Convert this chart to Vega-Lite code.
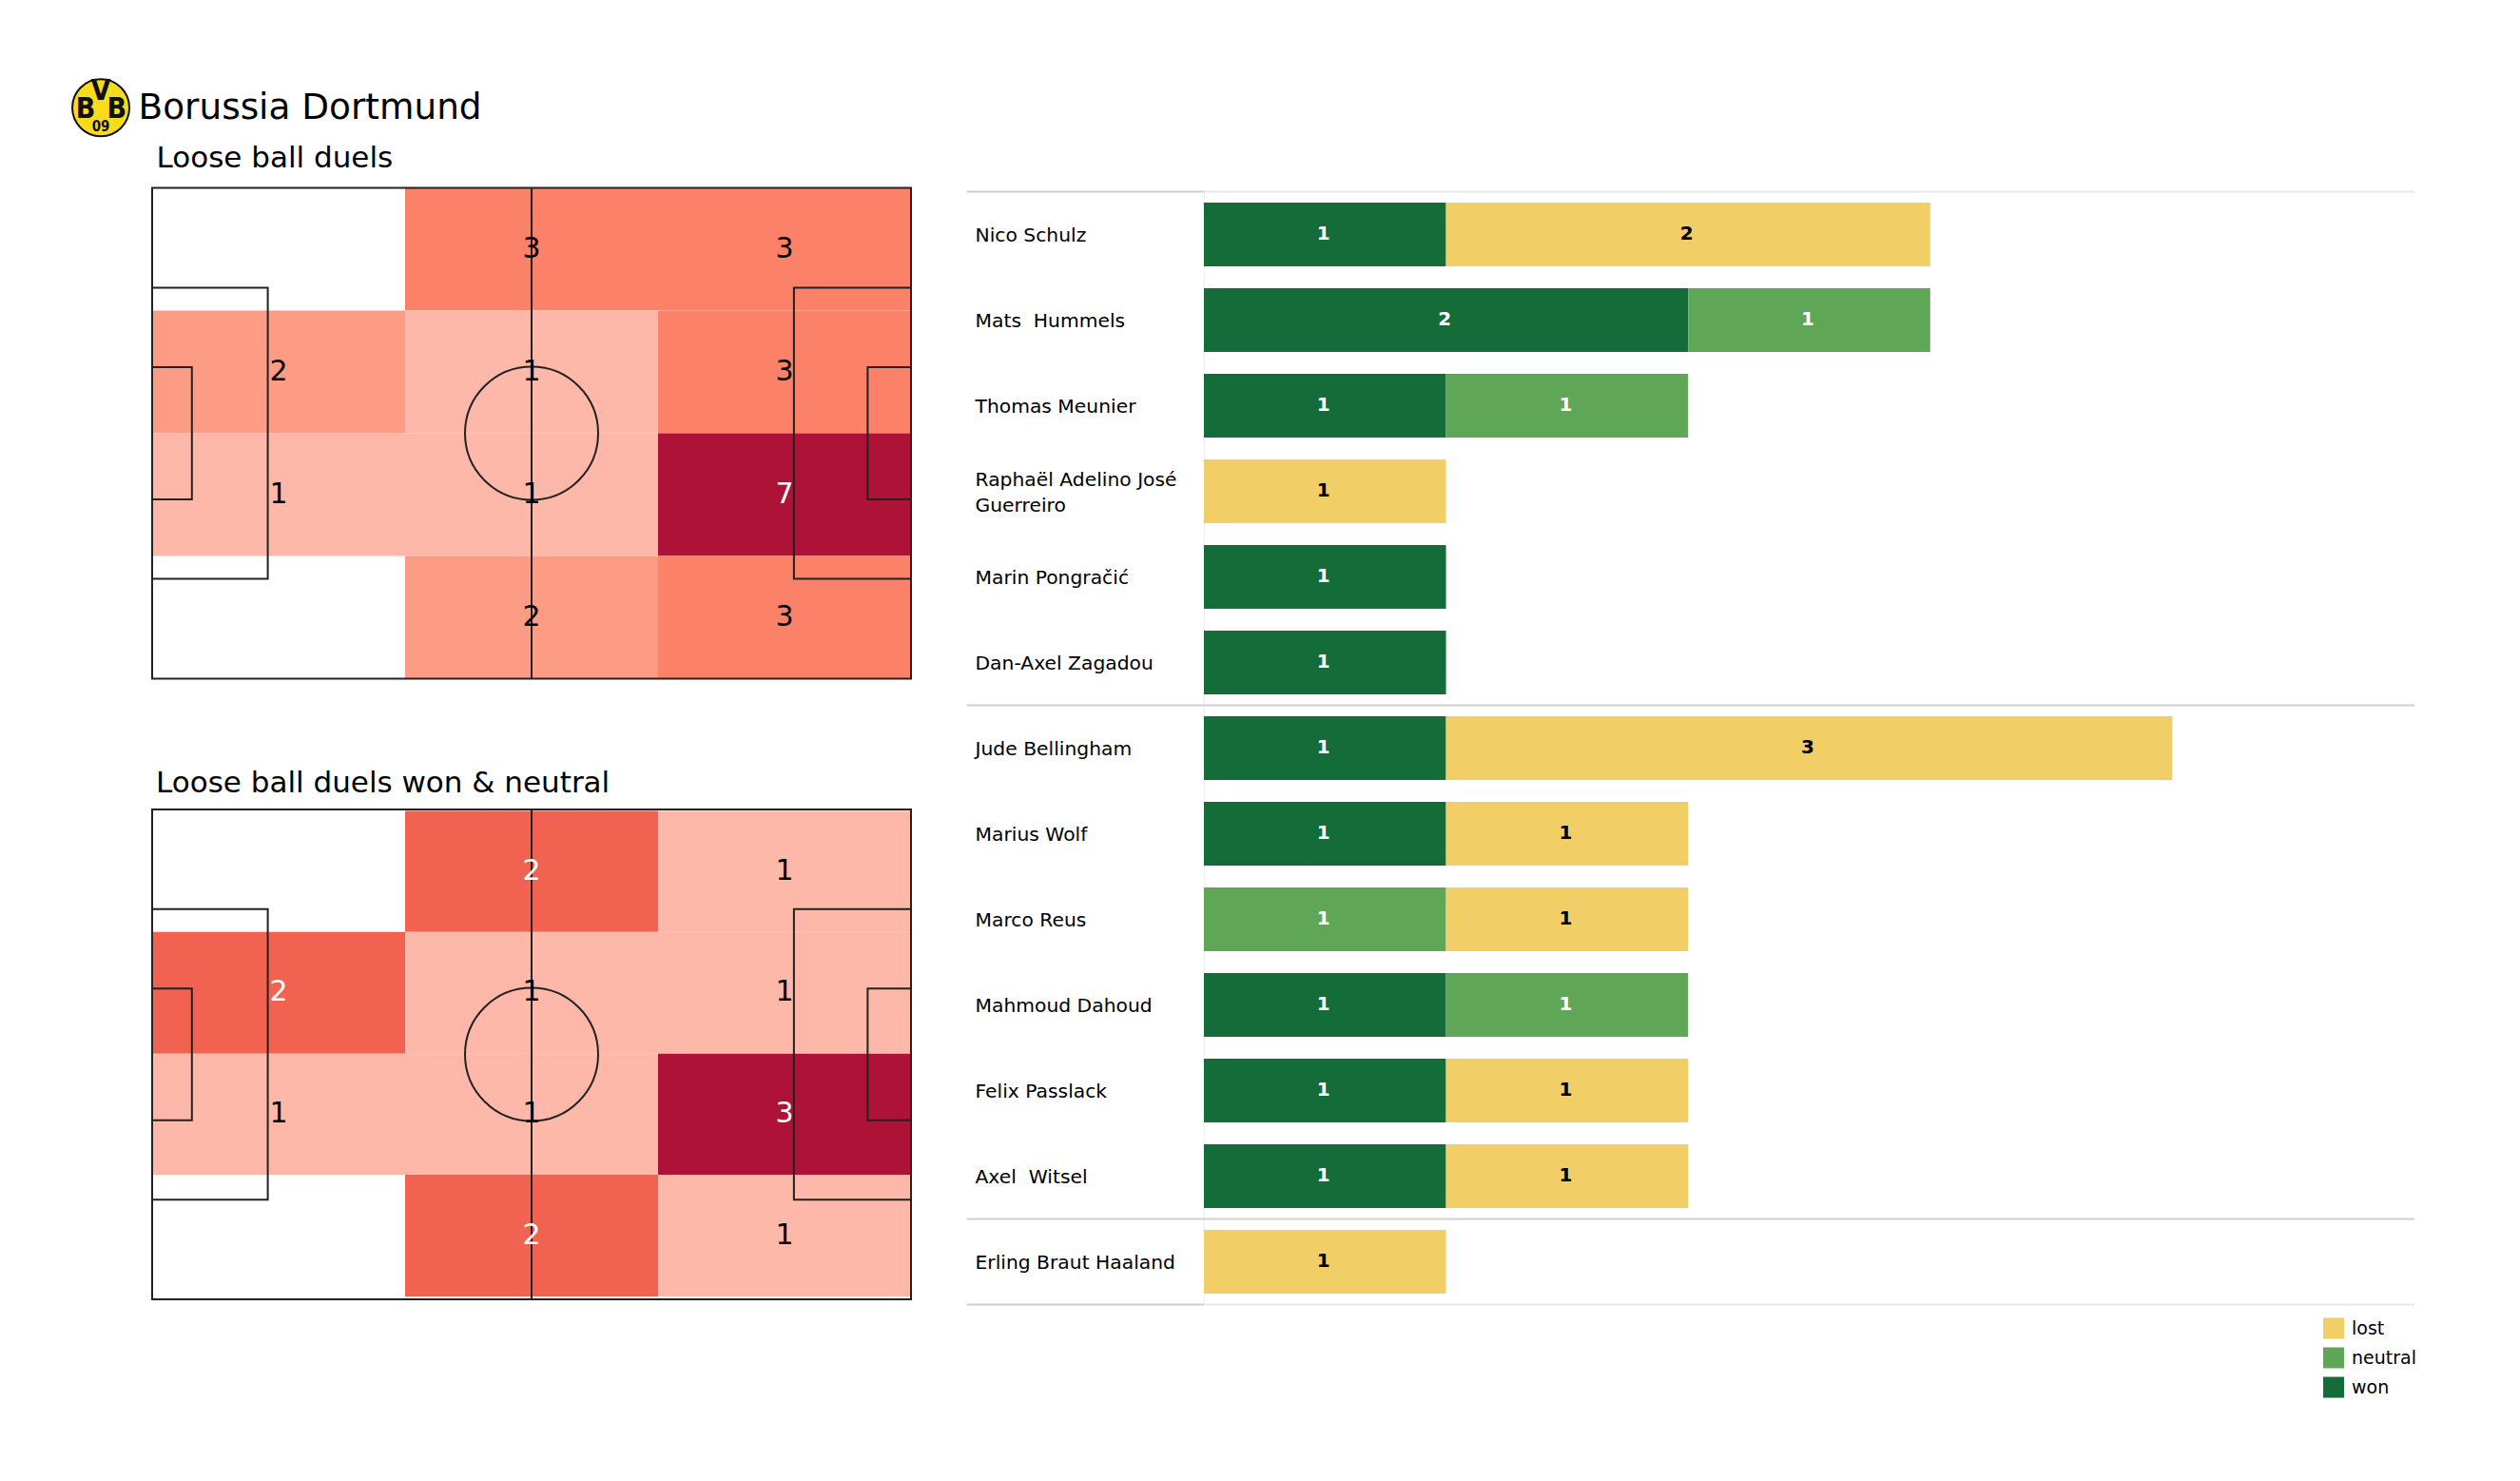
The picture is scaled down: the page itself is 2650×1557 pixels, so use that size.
{"$schema":"https://vega.github.io/schema/vega-lite/v6.json","background":"white","padding":{"left":72,"top":78.5,"right":0,"bottom":0},"config":{"view":{"stroke":null},"font":"DejaVu Sans","title":{"font":"DejaVu Sans","fontSize":31,"fontWeight":"normal","anchor":"start","color":"#000000","dx":5,"offset":10.5}},"resolve":{"scale":{"color":"independent"}},"datasets":{"pitchLines":[{"x0":0,"x1":105,"y0":0,"y1":68},{"x0":0,"x1":16,"y0":13.84,"y1":54.16},{"x0":88.8,"x1":105,"y0":13.84,"y1":54.16},{"x0":0,"x1":5.5,"y0":24.84,"y1":43.16},{"x0":99,"x1":105,"y0":24.84,"y1":43.16},{"x0":52.5,"x1":52.5,"y0":0,"y1":68}],"centre":[{"x":52.5,"y":34}],"logo":[{"x":-7.1,"y":-11.1}],"logoText":[{"x":-9.2,"y":-10.9,"t":"B"},{"x":-7.1,"y":-13.4,"t":"V"},{"x":-4.9,"y":-10.9,"t":"B"}],"logoYear":[{"x":-7.1,"y":-8.5,"t":"09"}],"club":[{"x":-1.9,"y":-9.6,"t":"Borussia Dortmund"}],"sub":[{"x":0.6,"y":-2.77,"t":"Loose ball duels"}],"all":[{"x0":35,"x1":70,"xm":52.5,"y0":0,"y1":17,"ym":8.5,"count":3},{"x0":70,"x1":105,"xm":87.5,"y0":0,"y1":17,"ym":8.5,"count":3},{"x0":0,"x1":35,"xm":17.5,"y0":17,"y1":34,"ym":25.5,"count":2},{"x0":35,"x1":70,"xm":52.5,"y0":17,"y1":34,"ym":25.5,"count":1},{"x0":70,"x1":105,"xm":87.5,"y0":17,"y1":34,"ym":25.5,"count":3},{"x0":0,"x1":35,"xm":17.5,"y0":34,"y1":51,"ym":42.5,"count":1},{"x0":35,"x1":70,"xm":52.5,"y0":34,"y1":51,"ym":42.5,"count":1},{"x0":70,"x1":105,"xm":87.5,"y0":34,"y1":51,"ym":42.5,"count":7},{"x0":35,"x1":70,"xm":52.5,"y0":51,"y1":68,"ym":59.5,"count":2},{"x0":70,"x1":105,"xm":87.5,"y0":51,"y1":68,"ym":59.5,"count":3}],"wonNeutral":[{"x0":35,"x1":70,"xm":52.5,"y0":0.2,"y1":17,"ym":8.6,"count":2},{"x0":70,"x1":105,"xm":87.5,"y0":0.2,"y1":17,"ym":8.6,"count":1},{"x0":0,"x1":35,"xm":17.5,"y0":17,"y1":33.9,"ym":25.4,"count":2},{"x0":35,"x1":70,"xm":52.5,"y0":17,"y1":33.9,"ym":25.4,"count":1},{"x0":70,"x1":105,"xm":87.5,"y0":17,"y1":33.9,"ym":25.4,"count":1},{"x0":0,"x1":35,"xm":17.5,"y0":33.9,"y1":50.7,"ym":42.3,"count":1},{"x0":35,"x1":70,"xm":52.5,"y0":33.9,"y1":50.7,"ym":42.3,"count":1},{"x0":70,"x1":105,"xm":87.5,"y0":33.9,"y1":50.7,"ym":42.3,"count":3},{"x0":35,"x1":70,"xm":52.5,"y0":50.7,"y1":67.6,"ym":59.2,"count":2},{"x0":70,"x1":105,"xm":87.5,"y0":50.7,"y1":67.6,"ym":59.2,"count":1}],"duels":[{"player":"Nico Schulz","outcome":"won","count":1},{"player":"Nico Schulz","outcome":"lost","count":2},{"player":"Mats  Hummels","outcome":"won","count":2},{"player":"Mats  Hummels","outcome":"neutral","count":1},{"player":"Thomas Meunier","outcome":"won","count":1},{"player":"Thomas Meunier","outcome":"neutral","count":1},{"player":"Raphaël Adelino José Guerreiro","outcome":"lost","count":1},{"player":"Marin Pongračić","outcome":"won","count":1},{"player":"Dan-Axel Zagadou","outcome":"won","count":1},{"player":"Jude Bellingham","outcome":"won","count":1},{"player":"Jude Bellingham","outcome":"lost","count":3},{"player":"Marius Wolf","outcome":"won","count":1},{"player":"Marius Wolf","outcome":"lost","count":1},{"player":"Marco Reus","outcome":"neutral","count":1},{"player":"Marco Reus","outcome":"lost","count":1},{"player":"Mahmoud Dahoud","outcome":"won","count":1},{"player":"Mahmoud Dahoud","outcome":"neutral","count":1},{"player":"Felix Passlack","outcome":"won","count":1},{"player":"Felix Passlack","outcome":"lost","count":1},{"player":"Axel  Witsel","outcome":"won","count":1},{"player":"Axel  Witsel","outcome":"lost","count":1},{"player":"Erling Braut Haaland","outcome":"lost","count":1}],"separators":[{"row":0,"from":-0.98,"to":0,"kind":"strong"},{"row":0,"from":0,"to":5,"kind":"faint"},{"row":6,"from":-0.98,"to":5,"kind":"strong"},{"row":12,"from":-0.98,"to":5,"kind":"strong"},{"row":13,"from":-0.98,"to":0,"kind":"strong"},{"row":13,"from":0,"to":5,"kind":"faint"}]},"hconcat":[{"spacing":92.5,"resolve":{"scale":{"color":"independent"}},"vconcat":[{"width":798,"height":516,"encoding":{"x":{"type":"quantitative","scale":{"domain":[0,105]},"axis":null},"y":{"type":"quantitative","scale":{"domain":[68,0]},"axis":null}},"layer":[{"data":{"name":"logo"},"mark":{"type":"point","filled":true,"fill":"#F7DC1E","stroke":"#111111","strokeWidth":2,"size":3600,"opacity":1},"encoding":{"x":{"field":"x"},"y":{"field":"y"}}},{"data":{"name":"logoText"},"mark":{"type":"text","font":"DejaVu Sans Condensed","fontWeight":"bold","fontSize":30,"color":"#111111"},"encoding":{"x":{"field":"x"},"y":{"field":"y"},"text":{"field":"t"}}},{"data":{"name":"logoYear"},"mark":{"type":"text","font":"DejaVu Sans Condensed","fontWeight":"bold","fontSize":15,"color":"#111111"},"encoding":{"x":{"field":"x"},"y":{"field":"y"},"text":{"field":"t"}}},{"data":{"name":"club"},"mark":{"type":"text","align":"left","baseline":"alphabetic","fontSize":37.4,"color":"#000000"},"encoding":{"x":{"field":"x"},"y":{"field":"y"},"text":{"field":"t"}}},{"data":{"name":"sub"},"mark":{"type":"text","align":"left","baseline":"alphabetic","fontSize":31,"color":"#000000"},"encoding":{"x":{"field":"x"},"y":{"field":"y"},"text":{"field":"t"}}},{"data":{"name":"all"},"mark":{"type":"rect"},"encoding":{"x":{"field":"x0"},"x2":{"field":"x1"},"y":{"field":"y0"},"y2":{"field":"y1"},"color":{"field":"count","type":"ordinal","legend":null,"scale":{"domain":[1,2,3,7],"range":["#FEB8AA","#FC9C85","#FC8169","#AE1237"]}}}},{"data":{"name":"pitchLines"},"mark":{"type":"rect","fill":null,"stroke":"#222222","strokeWidth":2},"encoding":{"x":{"field":"x0"},"x2":{"field":"x1"},"y":{"field":"y0"},"y2":{"field":"y1"}}},{"data":{"name":"centre"},"mark":{"type":"point","filled":false,"stroke":"#222222","strokeWidth":2,"size":19600,"opacity":1},"encoding":{"x":{"field":"x"},"y":{"field":"y"}}},{"data":{"name":"all"},"mark":{"type":"text","fontSize":30},"encoding":{"x":{"field":"xm"},"y":{"field":"ym"},"text":{"field":"count"},"color":{"condition":{"test":"datum.count>=7","value":"white"},"value":"black"}}}]},{"width":798,"height":515,"title":{"text":"Loose ball duels won & neutral"},"encoding":{"x":{"type":"quantitative","scale":{"domain":[0,105]},"axis":null},"y":{"type":"quantitative","scale":{"domain":[68,0]},"axis":null}},"layer":[{"data":{"name":"wonNeutral"},"mark":{"type":"rect"},"encoding":{"x":{"field":"x0"},"x2":{"field":"x1"},"y":{"field":"y0"},"y2":{"field":"y1"},"color":{"field":"count","type":"ordinal","legend":null,"scale":{"domain":[1,2,3],"range":["#FEB8AA","#F26250","#AE1237"]}}}},{"data":{"name":"pitchLines"},"mark":{"type":"rect","fill":null,"stroke":"#222222","strokeWidth":2},"encoding":{"x":{"field":"x0"},"x2":{"field":"x1"},"y":{"field":"y0"},"y2":{"field":"y1"}}},{"data":{"name":"centre"},"mark":{"type":"point","filled":false,"stroke":"#222222","strokeWidth":2,"size":19600,"opacity":1},"encoding":{"x":{"field":"x"},"y":{"field":"y"}}},{"data":{"name":"wonNeutral"},"mark":{"type":"text","fontSize":30},"encoding":{"x":{"field":"xm"},"y":{"field":"ym"},"text":{"field":"count"},"color":{"condition":{"test":"datum.count>=2","value":"white"},"value":"black"}}}]}]},{"width":1273,"height":1174,"resolve":{"scale":{"y":"independent"}},"encoding":{"x":{"type":"quantitative","scale":{"domain":[0,5]},"axis":null}},"layer":[{"data":{"name":"duels"},"mark":{"type":"bar"},"encoding":{"y":{"field":"player","type":"nominal","sort":null,"title":null,"scale":{"range":[4,1174],"paddingInner":0.256,"paddingOuter":0.128},"axis":{"orient":"left","ticks":false,"domainColor":"#eeeeee","labelAlign":"left","labelBaseline":"middle","labelPadding":241,"labelFontSize":20.3,"labelColor":"#000000","labelFont":"DejaVu Sans","labelLimit":0,"labelLineHeight":27,"grid":false,"labelOffset":{"condition":{"test":"datum.value=='Raphaël Adelino José Guerreiro'","value":-12},"value":1},"labelExpr":"datum.label=='Raphaël Adelino José Guerreiro'?['Raphaël Adelino José','Guerreiro']:replace(datum.label,'  ','\u00a0 ')"}},"x":{"field":"count","stack":"zero"},"order":{"field":"outcome","sort":"descending"},"color":{"field":"outcome","type":"nominal","scale":{"domain":["lost","neutral","won"],"range":["#F2CF66","#5FA656","#146C38"]},"legend":{"orient":"none","legendX":1177,"legendY":1188,"title":null,"symbolType":"square","symbolSize":484,"symbolStrokeWidth":0,"labelFontSize":19,"labelFont":"DejaVu Sans","labelColor":"#000000","rowPadding":9,"labelOffset":8}}}},{"data":{"name":"duels"},"mark":{"type":"text","fontWeight":"bold","fontSize":20,"dx":-1.5,"dy":-1},"encoding":{"y":{"field":"player","type":"nominal","sort":null,"scale":{"range":[4,1174],"paddingInner":0.256,"paddingOuter":0.128},"axis":null},"x":{"field":"count","stack":"zero","bandPosition":0.5},"detail":{"field":"outcome"},"order":{"field":"outcome","sort":"descending"},"text":{"field":"count"},"color":{"condition":{"test":"datum.outcome==='lost'","value":"black"},"value":"white"}}},{"data":{"name":"separators"},"mark":{"type":"rule","strokeWidth":2},"encoding":{"y":{"field":"row","type":"quantitative","scale":{"domain":[0,13],"range":[4,1174]},"axis":null},"x":{"field":"from"},"x2":{"field":"to"},"color":{"condition":{"test":"datum.kind==='strong'","value":"#cfcfcf"},"value":"#e8e8e8"}}}]}],"spacing":56}
